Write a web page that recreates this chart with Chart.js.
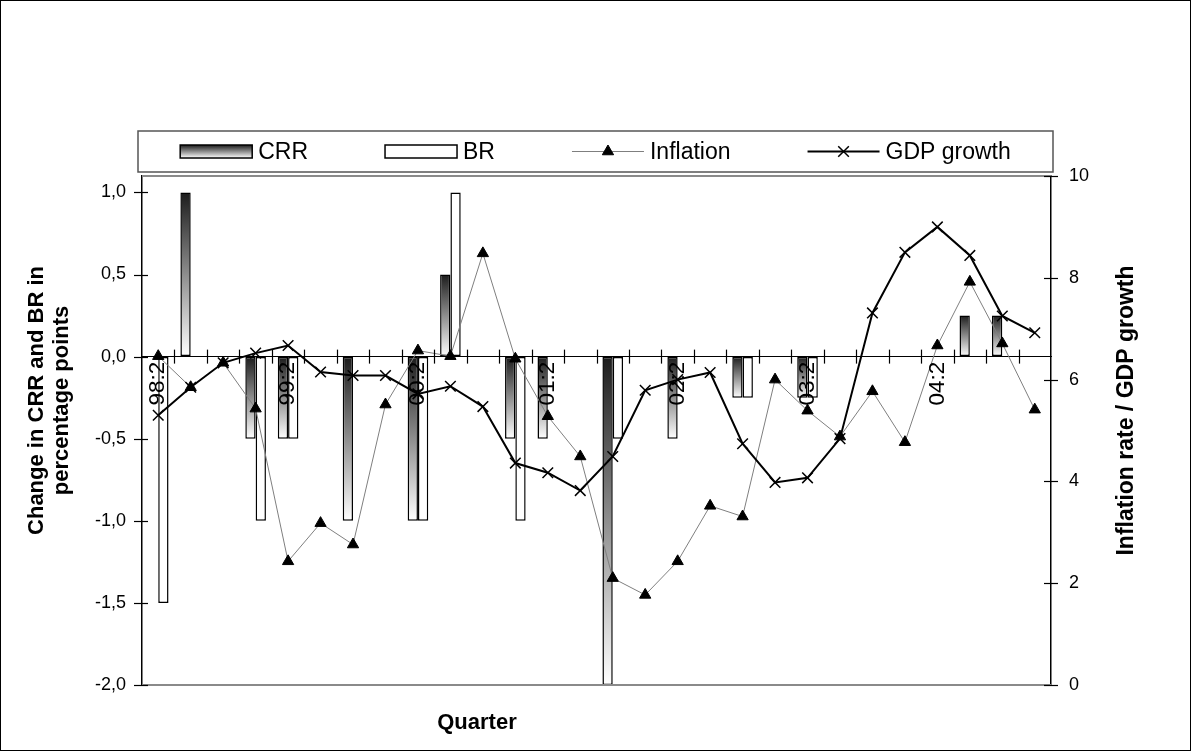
<!DOCTYPE html>
<html>
<head>
<meta charset="utf-8">
<title>CRR, BR, inflation and GDP growth</title>
<script src="https://cdn.jsdelivr.net/npm/chart.js@4.4.1/dist/chart.umd.min.js"></script>
<style>
  html, body { margin: 0; padding: 0; background: #fff; }
  #wrap { width: 1191px; height: 751px; position: relative; }
  canvas { display: block; }
</style>
</head>
<body>
<div id="wrap"><canvas id="chart" width="1191" height="751"></canvas></div>
<script>
// Quarters (year:quarter)
const quarters = [
  '98:2', '98:3', '98:4', '99:1', '99:2', '99:3', '99:4',
  '00:1', '00:2', '00:3', '00:4', '01:1', '01:2', '01:3', '01:4',
  '02:1', '02:2', '02:3', '02:4', '03:1', '03:2', '03:3', '03:4',
  '04:1', '04:2', '04:3', '04:4', '05:1'
];

// Change in cash reserve ratio, percentage points (null = no change)
const crrChange = [
  null, 1.0, null, -0.5, -0.5, null, -1.0,
  null, -1.0, 0.5, null, -0.5, -0.5, null, -2.0,
  null, -0.5, null, -0.25, null, -0.25, null, null,
  null, null, 0.25, 0.25, null
];

// Change in bank rate, percentage points (null = no change)
const brChange = [
  -1.5, null, null, -1.0, -0.5, null, null,
  null, -1.0, 1.0, null, -1.0, null, null, -0.5,
  null, null, null, -0.25, null, -0.25, null, null,
  null, null, null, null, null
];

// Inflation rate, per cent
const inflation = [
  6.46, 5.85, 6.33, 5.43, 2.43, 3.18, 2.76,
  5.51, 6.57, 6.46, 8.48, 6.41, 5.28, 4.49, 2.10,
  1.77, 2.43, 3.52, 3.31, 6.00, 5.39, 4.88, 5.77,
  4.77, 6.67, 7.92, 6.71, 5.41
];

// GDP growth, per cent
const gdpGrowth = [
  5.30, 5.85, 6.33, 6.52, 6.67, 6.15, 6.08,
  6.08, 5.72, 5.87, 5.47, 4.36, 4.17, 3.82, 4.49,
  5.79, 6.00, 6.14, 4.74, 3.98, 4.07, 4.84, 7.31,
  8.50, 9.00, 8.44, 7.25, 6.92
];

// Axis ticks and titles
const leftTicks = [-2.0, -1.5, -1.0, -0.5, 0.0, 0.5, 1.0];
const rightTicks = [0, 2, 4, 6, 8, 10];
const labelEvery = 4;
const leftTitle = ['Change in CRR and BR in', 'percentage points'];
const rightTitle = 'Inflation rate / GDP growth';
const bottomTitle = 'Quarter';

const FONT = "'Liberation Sans', Arial, Helvetica, sans-serif";
Chart.defaults.font.family = FONT;
Chart.defaults.color = '#000';

// Vertical dark-to-light fill used for the CRR bars
function crrFill(ctx) {
  if (ctx.type !== 'data') return '#555';
  const chart = ctx.chart;
  const ys = chart.scales.y;
  const v = ctx.raw;
  if (!ys || v == null) return '#555';
  const p0 = ys.getPixelForValue(0);
  const p1 = ys.getPixelForValue(v);
  const top = Math.min(p0, p1), bot = Math.max(p0, p1);
  if (!isFinite(top) || !isFinite(bot) || bot - top < 1) return '#555';
  const g = chart.ctx.createLinearGradient(0, top, 0, bot);
  g.addColorStop(0, '#1c1c1c');
  g.addColorStop(1, '#ffffff');
  return g;
}

// Frame, crossing tick marks, legend box and axis titles
const decor = {
  id: 'decor',
  afterDraw(chart) {
    const { ctx, chartArea: ca, scales } = chart;
    const yL = scales.y, yR = scales.y1, xs = scales.x;
    const seg = (x1, y1, x2, y2) => { ctx.beginPath(); ctx.moveTo(x1, y1); ctx.lineTo(x2, y2); ctx.stroke(); };
    ctx.save();

    // outer border
    ctx.strokeStyle = '#000';
    ctx.lineWidth = 1;
    ctx.strokeRect(0.5, 0.5, chart.width - 1, chart.height - 1);

    // plot area top and bottom edges
    ctx.strokeStyle = '#8a8a8a';
    ctx.lineWidth = 2;
    seg(ca.left, ca.top, ca.right, ca.top);
    seg(ca.left, ca.bottom, ca.right, ca.bottom);

    // tick marks crossing the axes
    ctx.strokeStyle = '#000';
    ctx.lineWidth = 1.2;
    leftTicks.forEach(v => {
      const py = Math.round(yL.getPixelForValue(v)) + 0.5;
      seg(ca.left - 8, py, ca.left + 6, py);
    });
    rightTicks.forEach(v => {
      const py = Math.round(yR.getPixelForValue(v)) + 0.5;
      seg(ca.right - 7, py, ca.right + 7, py);
    });
    const y0 = yL.getPixelForValue(0);
    const n = quarters.length;
    const step = (xs.right - xs.left) / n;
    for (let i = 1; i < n; i++) {
      const px = Math.round(xs.left + i * step) + 0.5;
      seg(px, y0 - 7, px, y0 + 7);
    }

    // legend box
    const lx0 = ca.left - 4, lx1 = ca.right + 2;
    const ly0 = ca.top - 45, ly1 = ca.top - 4;
    ctx.fillStyle = '#fff';
    ctx.fillRect(lx0, ly0, lx1 - lx0, ly1 - ly0);
    ctx.strokeStyle = '#555';
    ctx.lineWidth = 1.5;
    ctx.strokeRect(lx0, ly0, lx1 - lx0, ly1 - ly0);

    const ds = chart.data.datasets;
    const order = ['CRR', 'BR', 'Inflation', 'GDP growth'];
    const items = order.map(l => ds.find(d => d.label === l));
    ctx.font = '23px ' + FONT;
    const sw = 72, tgap = 6, gap = 77;
    const widths = items.map(d => sw + tgap + ctx.measureText(d.label).width);
    const total = widths.reduce((a, b) => a + b, 0) + gap * (items.length - 1);
    let cx = (lx0 + lx1) / 2 - total / 2;
    const my = (ly0 + ly1) / 2;
    items.forEach((d, i) => {
      if (d.type === 'bar') {
        const top = my - 6.5, h = 13;
        if (d.label === 'CRR') {
          const g = ctx.createLinearGradient(0, top, 0, top + h);
          g.addColorStop(0, '#1c1c1c');
          g.addColorStop(1, '#ffffff');
          ctx.fillStyle = g;
        } else {
          ctx.fillStyle = '#fff';
        }
        ctx.fillRect(cx, top, sw, h);
        ctx.strokeStyle = '#000';
        ctx.lineWidth = 1.5;
        ctx.strokeRect(cx, top, sw, h);
      } else {
        ctx.strokeStyle = d.borderColor;
        ctx.lineWidth = d.borderWidth;
        seg(cx, my, cx + sw, my);
        ctx.fillStyle = '#000';
        ctx.strokeStyle = '#000';
        ctx.lineWidth = d.pointBorderWidth;
        Chart.helpers.drawPoint(ctx, {
          pointStyle: d.pointStyle, radius: d.pointRadius,
          borderWidth: d.pointBorderWidth, rotation: 0
        }, cx + sw / 2, my);
      }
      ctx.fillStyle = '#000';
      ctx.textAlign = 'left';
      ctx.textBaseline = 'middle';
      ctx.fillText(d.label, cx + sw + tgap, my + 1);
      cx += widths[i] + gap;
    });

    // vertical axis titles, reading bottom to top
    const vText = (text, x, y) => {
      ctx.save();
      ctx.translate(x, y);
      ctx.rotate(-Math.PI / 2);
      ctx.fillText(text, 0, 0);
      ctx.restore();
    };
    ctx.fillStyle = '#000';
    ctx.textAlign = 'center';
    ctx.textBaseline = 'middle';
    ctx.font = 'bold 22px ' + FONT;
    const midY = (ca.top + ca.bottom) / 2 - 30;
    vText(leftTitle[0], ca.left - 105, midY);
    vText(leftTitle[1], ca.left - 80, midY);
    ctx.font = 'bold 23px ' + FONT;
    vText(rightTitle, ca.right + 76, (ca.top + ca.bottom) / 2 - 20);

    // horizontal axis title
    ctx.font = 'bold 22px ' + FONT;
    ctx.fillText(bottomTitle, ca.left + (ca.right - ca.left) * 0.3685, ca.bottom + 38);

    ctx.restore();
  }
};

new Chart(document.getElementById('chart'), {
  type: 'bar',
  data: {
    labels: quarters,
    datasets: [
      {
        type: 'line', label: 'GDP growth', data: gdpGrowth, yAxisID: 'y1', order: 0,
        borderColor: '#000', borderWidth: 2, tension: 0,
        pointStyle: 'crossRot', pointRadius: 7.5, pointHoverRadius: 7.5,
        pointBorderColor: '#000', pointBackgroundColor: '#000', pointBorderWidth: 1.5
      },
      {
        type: 'line', label: 'Inflation', data: inflation, yAxisID: 'y1', order: 1,
        borderColor: '#7f7f7f', borderWidth: 1, tension: 0,
        pointStyle: 'triangle', pointRadius: 6.5, pointHoverRadius: 6.5,
        pointBorderColor: '#000', pointBackgroundColor: '#000', pointBorderWidth: 1
      },
      {
        type: 'bar', label: 'CRR', data: crrChange, yAxisID: 'y', order: 3,
        backgroundColor: crrFill, borderColor: '#000', borderWidth: 1.5,
        borderSkipped: false, barPercentage: 1.0, categoryPercentage: 0.635
      },
      {
        type: 'bar', label: 'BR', data: brChange, yAxisID: 'y', order: 4,
        backgroundColor: '#fff', borderColor: '#000', borderWidth: 1.5,
        borderSkipped: false, barPercentage: 1.0, categoryPercentage: 0.635
      }
    ]
  },
  options: {
    responsive: false,
    animation: false,
    devicePixelRatio: 1,
    layout: { padding: { top: 176, bottom: 66, left: 0, right: 0 } },
    plugins: {
      legend: { display: false },
      tooltip: { enabled: false }
    },
    scales: {
      x: {
        type: 'category',
        position: { y: 0 },
        offset: true,
        grid: { display: false, drawTicks: false },
        border: { display: true, color: '#000', width: 1 },
        ticks: {
          z: 1,
          autoSkip: false, maxRotation: 90, minRotation: 90, padding: 5,
          font: { size: 22.5 }, color: '#000',
          callback: (v, i) => (i % labelEvery === 0 ? quarters[i] : '')
        }
      },
      y: {
        position: 'left',
        min: -2.0, max: 1.1,
        afterBuildTicks: s => { s.ticks = leftTicks.map(v => ({ value: v })); },
        afterFit: s => { s.width = 142; },
        grid: { drawOnChartArea: false, drawTicks: false },
        border: { display: true, color: '#000', width: 1.5 },
        ticks: {
          padding: 16, font: { size: 18 }, color: '#000',
          callback: v => v.toFixed(1).replace('.', ',')
        }
      },
      y1: {
        position: 'right',
        min: 0, max: 10,
        afterBuildTicks: s => { s.ticks = rightTicks.map(v => ({ value: v })); },
        afterFit: s => { s.width = 140; },
        grid: { drawOnChartArea: false, drawTicks: false },
        border: { display: true, color: '#000', width: 1.5 },
        ticks: { padding: 18, font: { size: 18 }, color: '#000' }
      }
    }
  },
  plugins: [decor]
});
</script>
</body>
</html>
